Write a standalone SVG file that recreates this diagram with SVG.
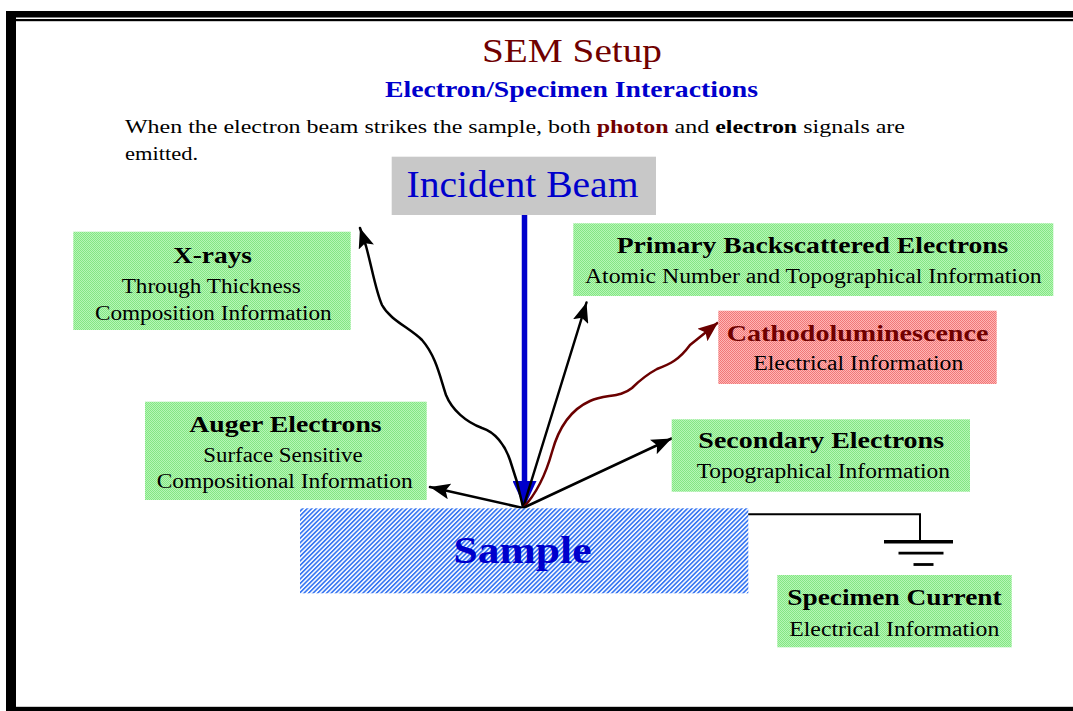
<svg xmlns="http://www.w3.org/2000/svg" width="1073" height="711" viewBox="0 0 1073 711">
  <style>
    text { font-family: "Liberation Serif", "Times New Roman", serif; }
    .hd { font-weight: bold; font-size: 24px; fill: #000; text-anchor: middle; }
    .sub { font-size: 20px; fill: #000; text-anchor: middle; }
    .ray { fill: none; stroke: #000; stroke-width: 2.5; stroke-linejoin: round; stroke-linecap: round; }
  </style>
  <defs>
    <pattern id="green" width="2" height="2" patternUnits="userSpaceOnUse">
      <rect width="2" height="2" fill="#b6f6b6"/>
      <rect width="1" height="1" fill="#84e684"/>
      <rect x="1" y="1" width="1" height="1" fill="#84e684"/>
    </pattern>
    <pattern id="pink" width="2" height="2" patternUnits="userSpaceOnUse">
      <rect width="2" height="2" fill="#ffb4b4"/>
      <rect width="1" height="1" fill="#f07878"/>
      <rect x="1" y="1" width="1" height="1" fill="#f07878"/>
    </pattern>
    <pattern id="hatch" width="3.2" height="3.2" patternUnits="userSpaceOnUse" patternTransform="rotate(45)">
      <rect width="3.2" height="3.2" fill="#ffffff"/>
      <rect width="1.7" height="3.2" fill="#3a78f2"/>
    </pattern>
    <marker id="head" viewBox="0 0 20 16" refX="20" refY="8" markerWidth="20" markerHeight="16" markerUnits="userSpaceOnUse" orient="auto">
      <path d="M0,0 L20,8 L0,16 L4,8 z" fill="#000"/>
    </marker>
    <marker id="headRed" viewBox="0 0 20 16" refX="20" refY="8" markerWidth="20" markerHeight="16" markerUnits="userSpaceOnUse" orient="auto">
      <path d="M0,0 L20,8 L0,16 L4,8 z" fill="#6b0000"/>
    </marker>
    <marker id="headBlue" viewBox="0 0 26 24" refX="26" refY="12" markerWidth="26" markerHeight="24" markerUnits="userSpaceOnUse" orient="auto">
      <path d="M0,0 L26,12 L0,24 z" fill="#0000cc"/>
    </marker>
  </defs>

  <rect width="1073" height="711" fill="#ffffff"/>

  <!-- page frame -->
  <g id="frame" fill="#000">
    <rect x="6" y="11" width="1067" height="6.5"/>
    <rect x="15" y="19" width="1058" height="2.2"/>
    <rect x="6" y="11" width="10" height="700"/>
    <rect x="6" y="706.8" width="1067" height="4.2"/>
  </g>

  <!-- headings -->
  <g id="heading">
    <text x="572" y="62" font-size="34" fill="#700000" text-anchor="middle" textLength="180" lengthAdjust="spacingAndGlyphs">SEM Setup</text>
    <text x="571.5" y="97" font-size="24" font-weight="bold" fill="#0000cc" text-anchor="middle" textLength="373" lengthAdjust="spacingAndGlyphs">Electron/Specimen Interactions</text>
    <text x="125" y="133" font-size="19" fill="#000" textLength="780" lengthAdjust="spacingAndGlyphs">When the electron beam strikes the sample, both <tspan font-weight="bold" fill="#700000">photon</tspan> and <tspan font-weight="bold">electron</tspan> signals are</text>
    <text x="125" y="160" font-size="19" fill="#000" textLength="73" lengthAdjust="spacingAndGlyphs">emitted.</text>
  </g>

  <!-- connectors -->
  <g id="connectors">
    <line x1="524.5" y1="215" x2="524.5" y2="507" stroke="#0000cc" stroke-width="5.5" marker-end="url(#headBlue)"/>
    <path class="ray" d="M523,507 L517,482 L510,460 C505,445 495,432 482,428 C466,422 452,410 446,395 C440,377 436,356 422,340 C410,328 390,320 382,305 C376,292 372,268 366,246 L360,228" marker-end="url(#head)"/>
    <line class="ray" x1="523" y1="508" x2="586.5" y2="302.5" marker-end="url(#head)"/>
    <path d="M523,508 C538,492 547,470 552,452 C558,430 570,410 590,401 C605,394 620,398 632,388 C640,380 646,375 657,369 C670,364 679,360 690,345 L718,322.5" fill="none" stroke="#6b0000" stroke-width="2.5" stroke-linejoin="round" marker-end="url(#headRed)"/>
    <line class="ray" x1="523" y1="508" x2="671.5" y2="438.5" marker-end="url(#head)"/>
    <line class="ray" x1="523" y1="508" x2="430" y2="487" marker-end="url(#head)"/>
    <!-- specimen current lead to ground -->
    <polyline points="748,514.3 920,514.3 920,541" fill="none" stroke="#000" stroke-width="2"/>
    <line x1="884" y1="541.7" x2="953" y2="541.7" stroke="#000" stroke-width="3.4"/>
    <line x1="898.5" y1="553.2" x2="943.5" y2="553.2" stroke="#000" stroke-width="2.8"/>
    <line x1="913.5" y1="564.5" x2="933.5" y2="564.5" stroke="#000" stroke-width="2.8"/>
  </g>

  <g id="incident-beam">
    <rect x="391.7" y="156.7" width="264.3" height="58.3" fill="#c8c8c8"/>
    <text x="522.5" y="196.7" font-size="38" fill="#0000cc" text-anchor="middle" textLength="232" lengthAdjust="spacingAndGlyphs">Incident Beam</text>
  </g>

  <g id="x-rays">
    <rect x="73.3" y="231.7" width="277.4" height="98.3" fill="url(#green)"/>
    <text class="hd" x="212.5" y="263.3" textLength="79" lengthAdjust="spacingAndGlyphs">X-rays</text>
    <text class="sub" x="211.2" y="293.3" textLength="179" lengthAdjust="spacingAndGlyphs">Through Thickness</text>
    <text class="sub" x="213.3" y="320" textLength="236.7" lengthAdjust="spacingAndGlyphs">Composition Information</text>
  </g>

  <g id="primary-backscattered">
    <rect x="573.3" y="223.3" width="480" height="72.7" fill="url(#green)"/>
    <text class="hd" x="812.5" y="253.3" textLength="391.7" lengthAdjust="spacingAndGlyphs">Primary Backscattered Electrons</text>
    <text class="sub" x="813.3" y="283.3" textLength="456.7" lengthAdjust="spacingAndGlyphs">Atomic Number and Topographical Information</text>
  </g>

  <g id="cathodoluminescence">
    <rect x="718.3" y="310.7" width="278.4" height="73.3" fill="url(#pink)"/>
    <text class="hd" x="857.5" y="340.7" fill="#700000" style="fill:#700000" textLength="261.7" lengthAdjust="spacingAndGlyphs">Cathodoluminescence</text>
    <text class="sub" x="858.3" y="370" textLength="210" lengthAdjust="spacingAndGlyphs">Electrical Information</text>
  </g>

  <g id="auger-electrons">
    <rect x="145" y="401.7" width="281.7" height="98.3" fill="url(#green)"/>
    <text class="hd" x="285.5" y="431.7" textLength="192.3" lengthAdjust="spacingAndGlyphs">Auger Electrons</text>
    <text class="sub" x="283" y="461.7" textLength="159.3" lengthAdjust="spacingAndGlyphs">Surface Sensitive</text>
    <text class="sub" x="284.7" y="488.3" textLength="256" lengthAdjust="spacingAndGlyphs">Compositional Information</text>
  </g>

  <g id="secondary-electrons">
    <rect x="671.7" y="419.3" width="298.3" height="72.4" fill="url(#green)"/>
    <text class="hd" x="821.2" y="448.3" textLength="245.7" lengthAdjust="spacingAndGlyphs">Secondary Electrons</text>
    <text class="sub" x="823.3" y="478.3" textLength="253.3" lengthAdjust="spacingAndGlyphs">Topographical Information</text>
  </g>

  <g id="sample">
    <rect x="300" y="508.3" width="448.3" height="85" fill="url(#hatch)"/>
    <text x="522.5" y="562.7" font-size="38" font-weight="bold" fill="#0000cc" text-anchor="middle" textLength="138" lengthAdjust="spacingAndGlyphs">Sample</text>
  </g>

  <g id="specimen-current">
    <rect x="777.3" y="575" width="234.4" height="72.3" fill="url(#green)"/>
    <text class="hd" x="894.5" y="605" textLength="214.3" lengthAdjust="spacingAndGlyphs">Specimen Current</text>
    <text class="sub" x="894.3" y="636" textLength="210" lengthAdjust="spacingAndGlyphs">Electrical Information</text>
  </g>
</svg>
